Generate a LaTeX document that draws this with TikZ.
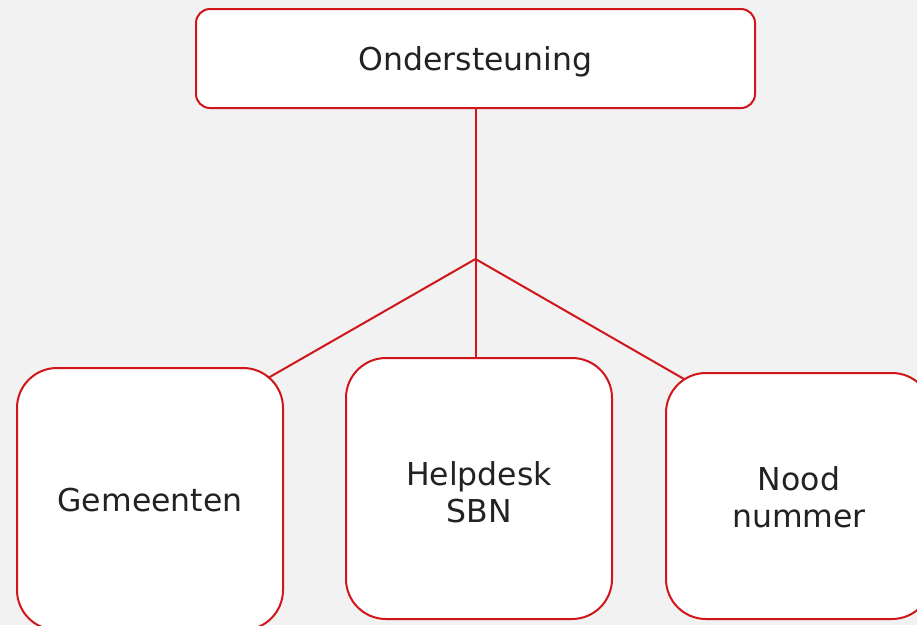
\documentclass[tikz,border=0pt]{standalone}
\usepackage{fontspec}
\setmainfont{DejaVu Sans}
\definecolor{bg}{HTML}{F2F2F2}
\definecolor{bord}{HTML}{D0161B}
\definecolor{txt}{HTML}{222222}
\begin{document}
\begin{tikzpicture}[x=1pt,y=-1pt,
  box/.style={draw=bord, line width=2pt, fill=white, inner sep=0pt},
  lbl/.style={text=txt, align=center, font=\fontsize{31.5}{37}\selectfont, inner sep=0pt},
  conn/.style={draw=bord, line width=2pt}]
  \fill[bg] (0,0) rectangle (917,625);
  \useasboundingbox (0,0) rectangle (917,625);
  % boxes
  \node[box, rounded corners=14pt, minimum width=559pt, minimum height=99pt] (top) at (475.5,58.5) {};
  \node[box, rounded corners=40pt, minimum width=266pt, minimum height=262pt] (gem) at (150,499) {};
  \node[box, rounded corners=40pt, minimum width=266pt, minimum height=261pt] (help) at (479,488.5) {};
  \node[box, rounded corners=40pt, minimum width=266pt, minimum height=246pt] (nood) at (799,496) {};
  % labels
  \node[lbl] (ttop) at (475.5,62) {Ondersteuning};
  \node[lbl] (tgem) at (150,500) {Gemeenten};
  \node[lbl] (thelp) at (479,492) {Helpdesk\\SBN};
  \node[lbl] (tnood) at (799,497) {Nood\\nummer};
  % connectors
  \coordinate (j) at (475.5,259);
  \coordinate (le) at (268,378);
  \coordinate (re) at (684,379);
  \draw[conn] (top.south) -- (j);
  \draw[conn] (j) -- (j |- help.north);
  \draw[conn] (j) -- (le);
  \draw[conn] (j) -- (re);
\end{tikzpicture}
\end{document}
